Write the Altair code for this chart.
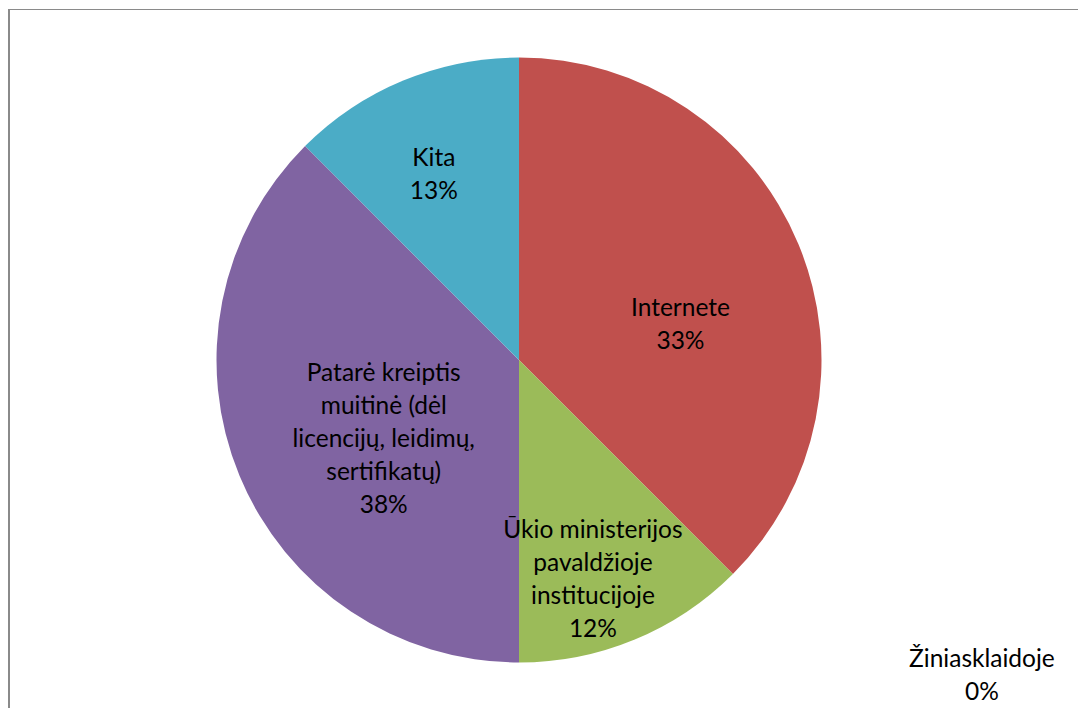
import math
import altair as alt
import pandas as pd

categories = [
    "Internete",
    "Žiniasklaidoje",
    "Ūkio ministerijos pavaldžioje institucijoje",
    "Patarė kreiptis muitinė (dėl licencijų, leidimų, sertifikatų)",
    "Kita",
]
shares = [37.5, 0.0, 12.5, 37.5, 12.5]
pct_labels = ["33%", "0%", "12%", "38%", "13%"]
label_lines = [
    ["Internete"],
    ["Žiniasklaidoje"],
    ["Ūkio ministerijos", "pavaldžioje", "institucijoje"],
    ["Patarė kreiptis", "muitinė (dėl", "licencijų, leidimų,", "sertifikatų)"],
    ["Kita"],
]
colors = ["#C0504D", "#4F81BD", "#9BBB59", "#8064A2", "#4BACC6"]

# label placement: angular nudge (deg) from the slice mid-angle, distance from centre (px)
label_nudge = [10.6, -10.6, 4.0, -8.0, -2.3]
label_dist = [165, 561, 233, 157, 203]

W, H = 1070, 700
CX, CY, R = 511, 352, 302.5
LH = 33
FS = 24.5

total = sum(shares)
rows = []
cum = 0.0
for i, (c, s) in enumerate(zip(categories, shares)):
    mid = (cum + s / 2) / total * 360.0
    cum += s
    lines = label_lines[i] + [pct_labels[i]]
    # block centre in polar -> cartesian, then shift up to first line (Vega anchors first line)
    ang = math.radians(mid + label_nudge[i])
    dx = label_dist[i] * math.sin(ang)
    dy = -label_dist[i] * math.cos(ang) - (len(lines) - 1) * LH / 2
    rows.append({
        "idx": i,
        "cat": c,
        "share": s,
        "label": "\n".join(lines),
        "lab_theta": math.atan2(dx, -dy),
        "lab_r": math.hypot(dx, dy),
    })
df = pd.DataFrame(rows)

base = alt.Chart(df)

pie = base.mark_arc(radius=R).encode(
    theta=alt.Theta("share:Q", stack=True),
    order=alt.Order("idx:Q"),
    color=alt.Color("cat:N", scale=alt.Scale(domain=categories, range=colors), legend=None),
    x=alt.value(CX),
    y=alt.value(CY),
)

labels = base.mark_text(
    lineBreak="\n", font="Lato", fontSize=FS, lineHeight=LH,
    align="center", baseline="middle", color="black",
).encode(
    theta=alt.Theta("lab_theta:Q", scale=None, stack=None),
    radius=alt.Radius("lab_r:Q", scale=None),
    text="label:N",
    x=alt.value(CX),
    y=alt.value(CY),
)

one = alt.Chart(pd.DataFrame({"a": [0]}))
top_rule = one.mark_rule(color="#8a8a8a", strokeWidth=1).encode(
    x=alt.value(0), x2=alt.value(W), y=alt.value(1.5)
)
left_rule = one.mark_rule(color="#8a8a8a", strokeWidth=2).encode(
    x=alt.value(1), y=alt.value(1), y2=alt.value(H)
)

chart = alt.layer(pie, labels, top_rule, left_rule).properties(
    width=W, height=H, padding=0, autosize=alt.AutoSizeParams(type="none"),
    background="white",
).configure_view(stroke=None)

chart.save("out.html", embed_options={"renderer": "svg", "actions": False})
